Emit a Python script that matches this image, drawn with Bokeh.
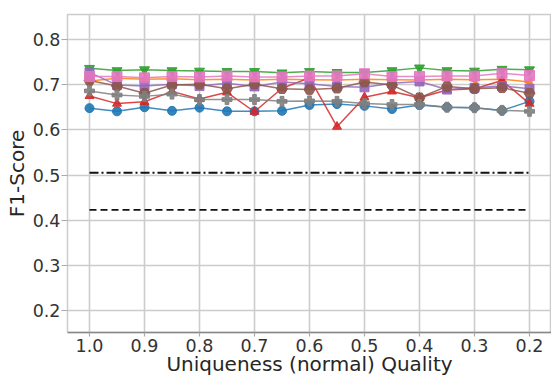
import math
from bokeh.plotting import figure
from bokeh.models import Range1d, FixedTicker, NumeralTickFormatter
from bokeh.embed import file_html
from bokeh.resources import INLINE

# ---- data ----
quality = [1.0, 0.95, 0.9, 0.85, 0.8, 0.75, 0.7, 0.65, 0.6, 0.55, 0.5, 0.45, 0.4, 0.35, 0.3, 0.25, 0.2]

s_blue   = [0.648, 0.641, 0.650, 0.642, 0.649, 0.641, 0.641, 0.642, 0.655, 0.657, 0.653, 0.646, 0.655, 0.650, 0.649, 0.643, 0.663]
s_orange = [0.708, 0.714, 0.712, 0.713, 0.711, 0.712, 0.710, 0.712, 0.711, 0.710, 0.712, 0.711, 0.710, 0.712, 0.711, 0.712, 0.706]
s_green  = [0.736, 0.731, 0.733, 0.731, 0.730, 0.729, 0.729, 0.726, 0.729, 0.727, 0.727, 0.731, 0.737, 0.731, 0.730, 0.734, 0.733]
s_red    = [0.675, 0.658, 0.662, 0.685, 0.668, 0.683, 0.640, 0.692, 0.715, 0.607, 0.672, 0.685, 0.671, 0.688, 0.691, 0.709, 0.658]
s_purple = [0.727, 0.699, 0.697, 0.701, 0.697, 0.703, 0.696, 0.706, 0.702, 0.696, 0.694, 0.703, 0.707, 0.689, 0.693, 0.697, 0.691]
s_brown  = [0.709, 0.697, 0.681, 0.699, 0.701, 0.691, 0.701, 0.691, 0.689, 0.692, 0.706, 0.699, 0.671, 0.696, 0.691, 0.693, 0.681]
s_pink   = [0.718, 0.718, 0.715, 0.718, 0.717, 0.719, 0.717, 0.717, 0.719, 0.719, 0.724, 0.718, 0.718, 0.719, 0.719, 0.725, 0.720]
s_gray   = [0.686, 0.677, 0.674, 0.679, 0.667, 0.667, 0.667, 0.663, 0.664, 0.663, 0.658, 0.656, 0.656, 0.650, 0.649, 0.643, 0.641]

baseline_x = [1.0, 0.2]
baseline_dashdot = [0.505, 0.505]
baseline_dashed = [0.423, 0.423]

x_ticks = [1.0, 0.9, 0.8, 0.7, 0.6, 0.5, 0.4, 0.3, 0.2]
y_ticks = [0.2, 0.3, 0.4, 0.5, 0.6, 0.7, 0.8]

series = [
    (s_blue,   "#1f77b4", "circle", 0.0, 9),
    (s_orange, "#ff7f0e", "triangle", math.pi / 2, 9),
    (s_green,  "#2ca02c", "inverted_triangle", 0.0, 10),
    (s_red,    "#d62728", "triangle", 0.0, 9),
    (s_purple, "#9467bd", "square", 0.0, 9),
    (s_brown,  "#8c564b", "hex", 0.0, 11),
    (s_pink,   "#e377c2", "square", 0.0, 10),
    (s_gray,   "#7f7f7f", "plus", 0.0, 10),
]

p = figure(width=551, height=378, output_backend="svg", toolbar_location=None,
           x_range=Range1d(1.04, 0.16), y_range=Range1d(0.152, 0.855),
           min_border_left=67, min_border_right=0, min_border_top=14, min_border_bottom=40)

p.background_fill_color = "white"
p.border_fill_color = "white"
p.outline_line_color = "#cccccc"
p.outline_line_width = 1.5

for vals, col, mk, ang, sz in series:
    p.line(quality, vals, line_color=col, line_width=1.5, line_alpha=0.85)
    p.scatter(quality, vals, marker=mk, angle=ang, size=sz, fill_color=col,
              line_color=col, fill_alpha=0.9, line_alpha=0.9)

p.line(baseline_x, baseline_dashdot, line_color="#111111", line_width=2, line_dash="9 3 2 3")
p.line(baseline_x, baseline_dashed, line_color="#111111", line_width=1.6, line_dash="7 4")

p.xaxis.ticker = FixedTicker(ticks=x_ticks)
p.yaxis.ticker = FixedTicker(ticks=y_ticks)
p.xaxis.formatter = NumeralTickFormatter(format="0.0")
p.yaxis.formatter = NumeralTickFormatter(format="0.0")

p.xgrid.grid_line_color = "#cccccc"
p.ygrid.grid_line_color = "#cccccc"
p.xgrid.grid_line_width = 1.6
p.ygrid.grid_line_width = 1.6

for ax in (p.xaxis, p.yaxis):
    ax.major_label_text_font = "DejaVu Sans"
    ax.major_label_text_font_size = "17.5px"
    ax.major_label_text_color = "#333333"
    ax.axis_label_text_font = "DejaVu Sans"
    ax.axis_label_text_font_size = "20px"
    ax.axis_label_text_font_style = "normal"
    ax.axis_label_text_color = "#262626"
    ax.minor_tick_line_color = None
    ax.major_tick_in = 0
    ax.major_tick_line_color = "#aaaaaa"
    ax.major_tick_line_width = 1.2

p.xaxis.axis_label = "Uniqueness (normal) Quality"
p.yaxis.axis_label = "F1-Score"
p.xaxis.axis_line_color = "#888888"
p.xaxis.axis_line_width = 1.5
p.yaxis.axis_line_color = "#cccccc"
p.xaxis.major_tick_out = 4
p.yaxis.major_tick_out = 6
p.xaxis.major_label_standoff = 2
p.yaxis.major_label_standoff = 1
p.xaxis.axis_label_standoff = -3
p.yaxis.axis_label_standoff = 1

open("out.html", "w").write(file_html(p, INLINE))
